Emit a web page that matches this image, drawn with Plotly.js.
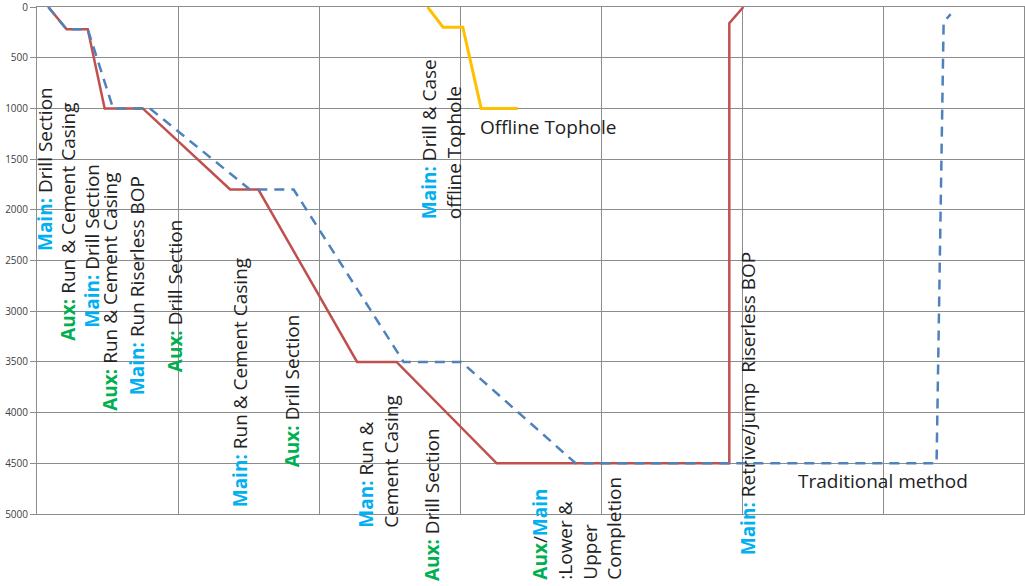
<!DOCTYPE html>
<html>
<head>
<meta charset="utf-8">
<script src="https://cdn.plot.ly/plotly-3.0.1.min.js"></script>
<style>
  html, body { margin: 0; padding: 0; background: #fff; }
  #chart { width: 1025px; height: 586px; }
</style>
</head>
<body>
<div id="chart"></div>
<script>
// Series: proposed (dual activity) method
const mainX = [0.8, 2.1, 3.6, 4.8, 7.5, 13.7, 15.7, 22.7, 25.5, 32.6, 49.1, 49.1, 50.1];
const mainY = [0, 220, 220, 1000, 1000, 1800, 1800, 3500, 3500, 4500, 4500, 160, 0];
// Series: traditional method
const tradX = [0.8, 2.1, 3.6, 5.4, 8.0, 15.1, 18.2, 26.0, 30.1, 38.2, 63.8, 64.3, 64.8];
const tradY = [0, 220, 220, 1000, 1000, 1800, 1800, 3500, 3500, 4500, 4500, 150, 70];
// Series: offline tophole
const topX = [27.7, 28.8, 30.2, 31.5, 34.1];
const topY = [0, 200, 200, 1000, 1000];

const yTicks = [0, 500, 1000, 1500, 2000, 2500, 3000, 3500, 4000, 4500, 5000];
const X_MAX = 70, Y_MAX = 5000;

const BLUE = '#00B0F0', GREEN = '#00B050';
const M = (s) => '<span style="color:' + BLUE + '"><b>' + s + '</b></span>';
const A = (s) => '<span style="color:' + GREEN + '"><b>' + s + '</b></span>';

// Labels: [text, x, depth at label bottom]
const vLabels = [
  [M('Main:') + ' Drill Section', 0.57, 2426],
  [A('Aux:') + ' Run &amp; Cement Casing', 2.2, 3311],
  [M('Main:') + ' Drill Section', 3.9, 3183],
  [A('Aux:') + ' Run &amp; Cement Casing', 5.18, 4001],
  [M('Main:') + ' Run Riserless BOP', 7.09, 3843],
  [A('Aux:') + ' Drill Section', 9.79, 3626],
  [M('Main:') + ' Run &amp; Cement Casing', 14.4, 4958],
  [A('Aux:') + ' Drill Section', 18.09, 4563],
  [M('Man:') + ' Run &amp;<br>Cement Casing', 24.22, 5155],
  [A('Aux:') + ' Drill Section', 28.01, 5677],
  [A('Aux') + '/' + M('Main') + '<br>:Lower &amp;<br>Upper<br>Completion', 38.33, 5668],
  [M('Main:') + ' Drill &amp; Case<br>offline Tophole', 28.69, 2117],
  [M('Main:') + ' Retrive/jump&nbsp; Riserless BOP', 50.43, 5431]
];
const hLabels = [
  ['Offline Tophole', 31.28, 1180],
  ['Traditional method', 53.83, 4672]
];

const FONT = '"Open Sans", Lato, sans-serif';
const px = (x) => x / X_MAX;
const py = (y) => 1 - y / Y_MAX;
const annotations = [];
vLabels.forEach(([t, x, y]) => annotations.push({
  text: t, x: px(x), y: py(y), xref: 'paper', yref: 'paper', showarrow: false,
  textangle: -90, xanchor: 'center', yanchor: 'bottom', align: 'left',
  font: {family: FONT, size: 19, color: '#222'}
}));
hLabels.forEach(([t, x, y]) => annotations.push({
  text: t, x: px(x), y: py(y), xref: 'paper', yref: 'paper', showarrow: false,
  xanchor: 'left', yanchor: 'middle',
  font: {family: FONT, size: 19, color: '#222'}
}));

const traces = [
  {x: mainX, y: mainY, mode: 'lines', line: {color: '#C0504D', width: 2.5}, name: 'Main'},
  {x: tradX, y: tradY, mode: 'lines', line: {color: '#4F81BD', width: 2.5, dash: '10px,7px'}, name: 'Traditional'},
  {x: topX, y: topY, mode: 'lines', line: {color: '#FFC000', width: 3}, name: 'Offline Tophole'}
];

const layout = {
  width: 1025, height: 586,
  margin: {l: 37, r: 1, t: 7, b: 72},
  paper_bgcolor: '#fff', plot_bgcolor: '#fff',
  showlegend: false,
  xaxis: {
    range: [0, X_MAX], dtick: 10, tick0: 0, showticklabels: false,
    showgrid: true, gridcolor: '#8c8c8c', gridwidth: 1,
    zeroline: false, showline: true, mirror: true, linecolor: '#8c8c8c', linewidth: 1,
    ticks: ''
  },
  yaxis: {
    range: [Y_MAX, 0], tickvals: yTicks, ticktext: yTicks.map(String),
    showgrid: true, gridcolor: '#8c8c8c', gridwidth: 1,
    zeroline: false, showline: true, mirror: true, linecolor: '#8c8c8c', linewidth: 1,
    ticks: 'outside', ticklen: 6, tickcolor: '#8c8c8c',
    ticklabeloverflow: 'allow',
    tickfont: {family: FONT, size: 10, color: '#404040'}
  },
  annotations: annotations
};

Plotly.newPlot('chart', traces, layout, {staticPlot: true});
</script>
</body>
</html>
